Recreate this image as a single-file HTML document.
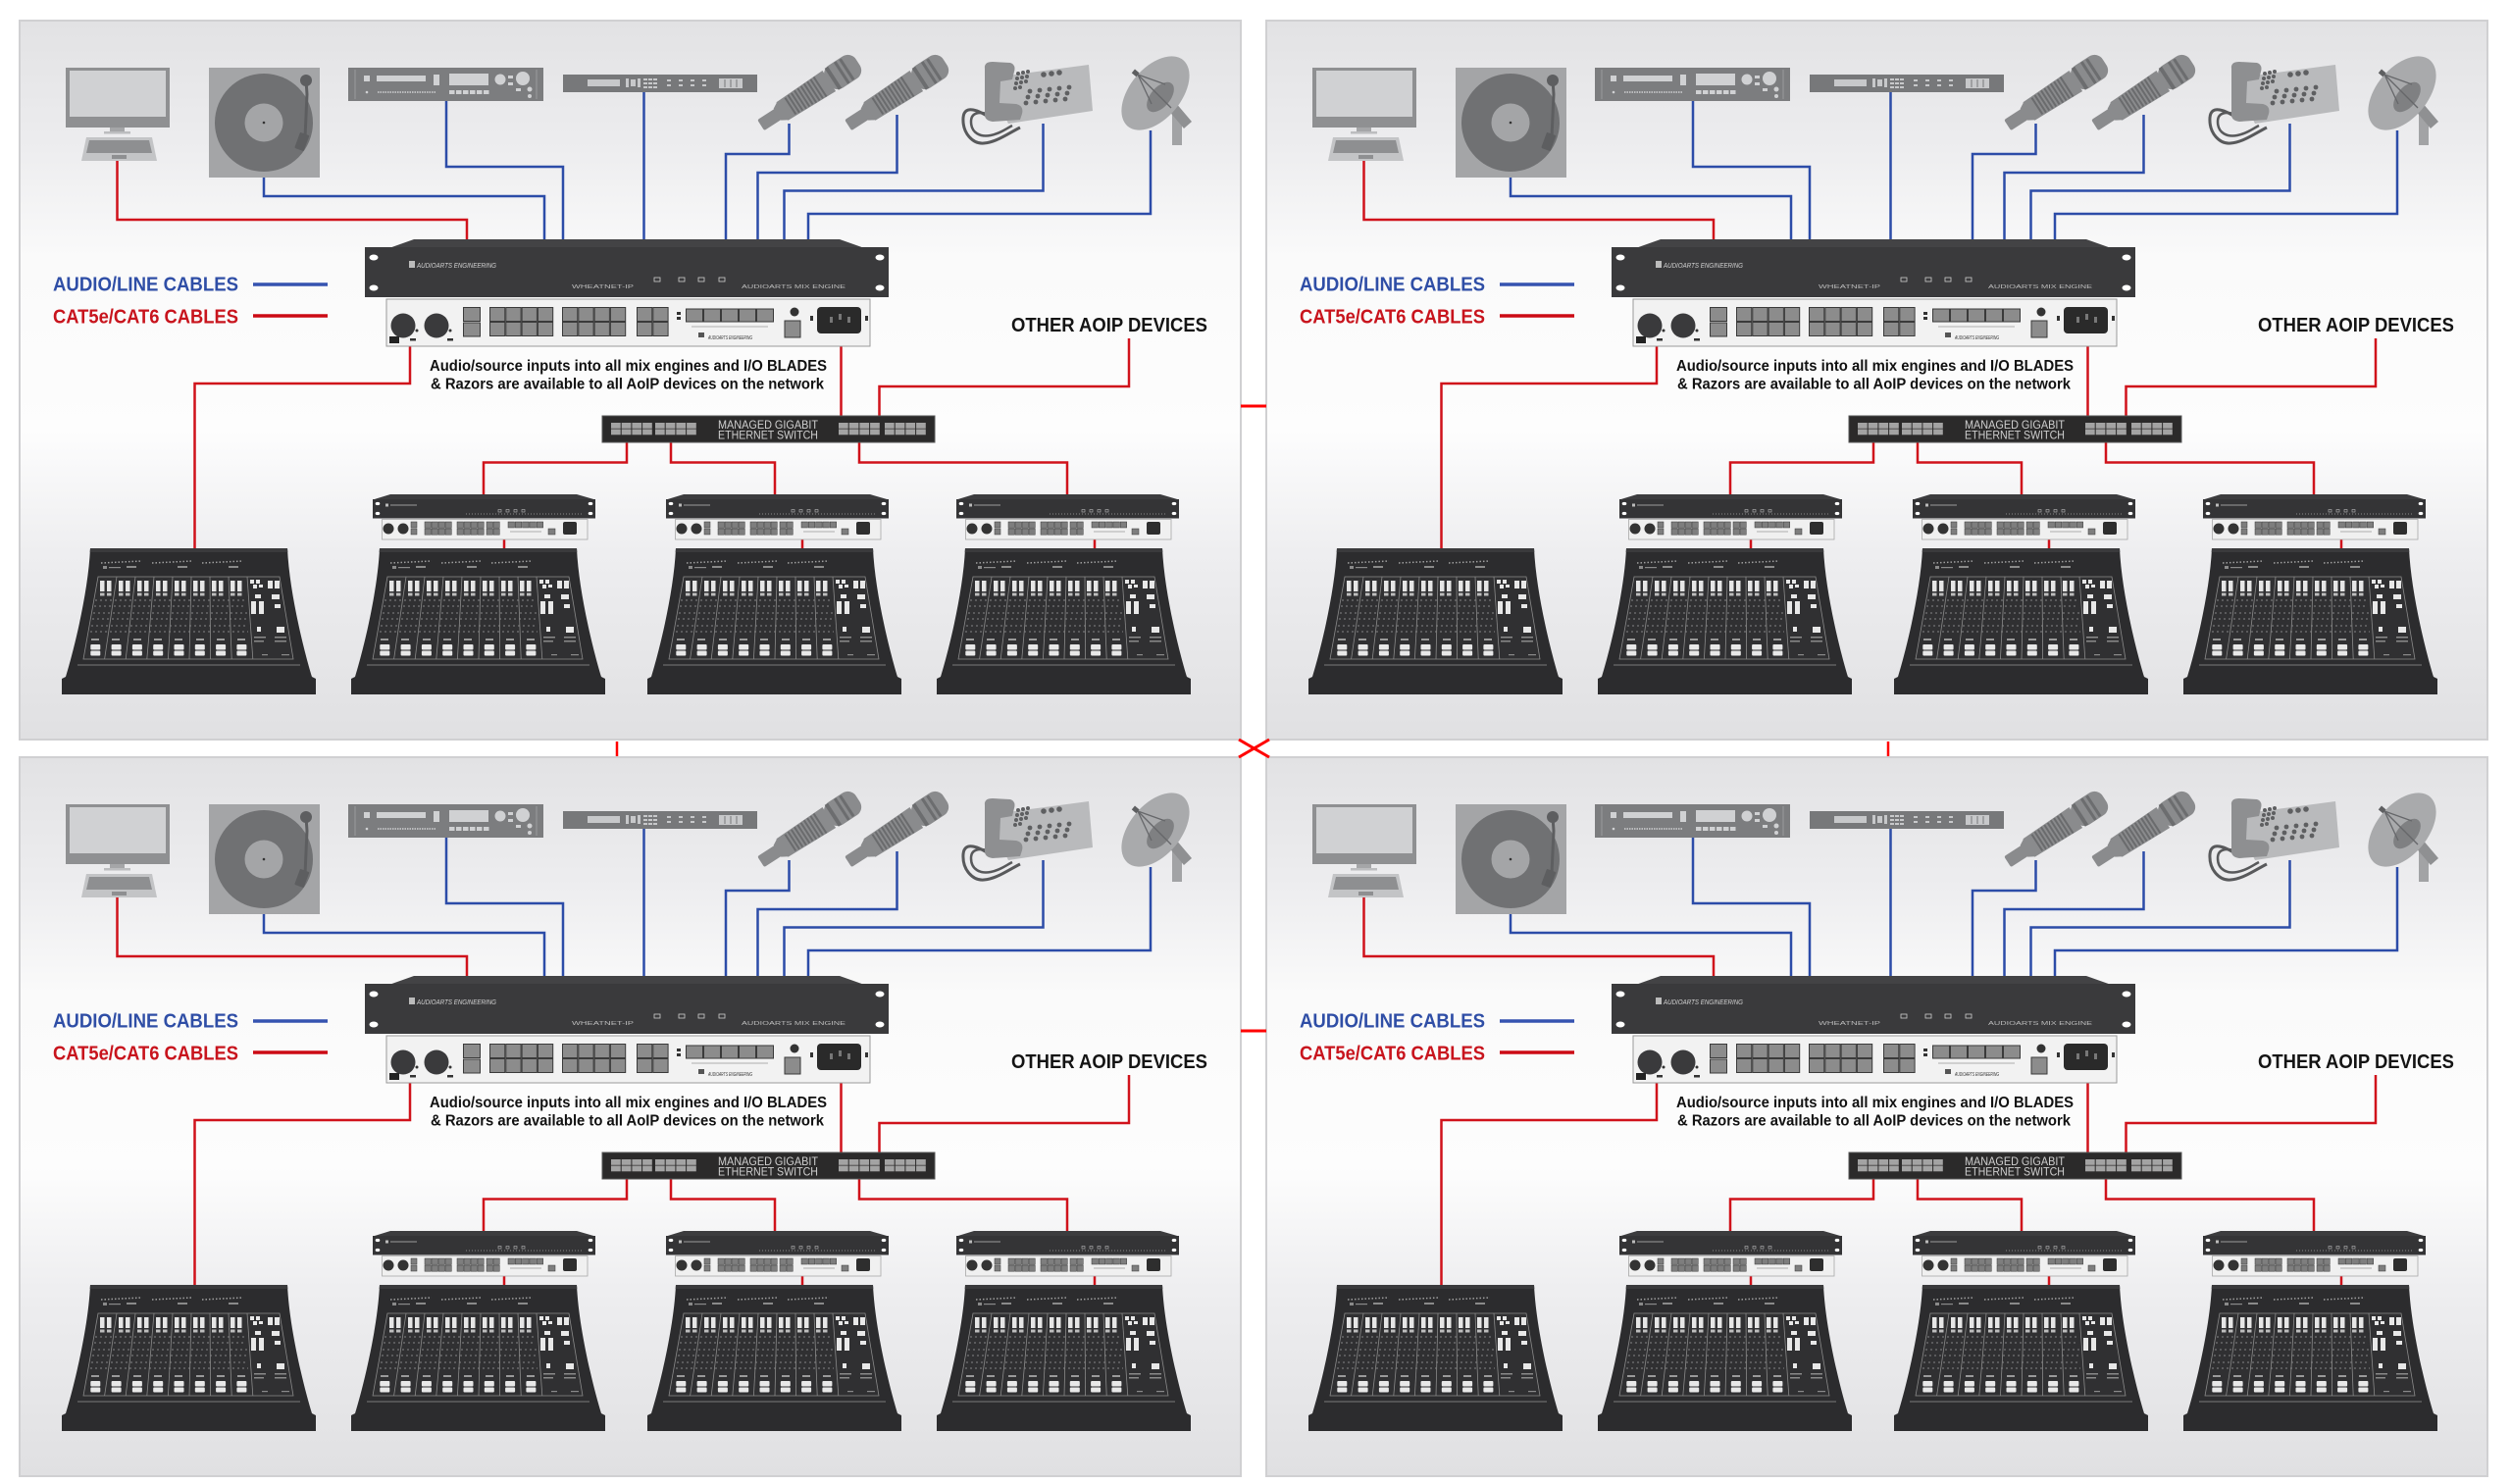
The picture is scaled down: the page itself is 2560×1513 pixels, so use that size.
<!DOCTYPE html>
<html><head><meta charset="utf-8"><style>
html,body{margin:0;padding:0;background:#fff;}
svg{display:block;}
text{font-family:"Liberation Sans",Arial,sans-serif;}
</style></head><body>
<svg width="2560" height="1513" viewBox="0 0 2560 1513" xmlns="http://www.w3.org/2000/svg">
<defs>
<linearGradient id="bg" x1="0" y1="0" x2="0" y2="1">
<stop offset="0" stop-color="#e2e2e4"/>
<stop offset="0.18" stop-color="#ededef"/>
<stop offset="0.33" stop-color="#fafafa"/>
<stop offset="0.57" stop-color="#fdfdfd"/>
<stop offset="0.74" stop-color="#eeeef0"/>
<stop offset="1" stop-color="#e0e0e2"/>
</linearGradient>

<g id="mic">
<rect x="-60" y="-6.5" width="22" height="13" rx="2" fill="#8a8b8d"/>
<polygon points="-40,-7 -33,-11 -33,11 -40,7" fill="#8a8b8d"/>
<polygon points="-34,-11 23,-12.5 23,12.5 -34,11" fill="#8a8b8d"/>
<g stroke="#6a6b6d" stroke-width="2">
<line x1="-24" y1="-10" x2="-24" y2="10"/><line x1="-20" y1="-10.5" x2="-20" y2="10.5"/><line x1="-16" y1="-10.5" x2="-16" y2="10.5"/><line x1="-12" y1="-11" x2="-12" y2="11"/><line x1="-8" y1="-11" x2="-8" y2="11"/><line x1="-4" y1="-11" x2="-4" y2="11"/><line x1="0" y1="-11.5" x2="0" y2="11.5"/><line x1="4" y1="-11.5" x2="4" y2="11.5"/><line x1="8" y1="-11.5" x2="8" y2="11.5"/><line x1="12" y1="-12" x2="12" y2="12"/>
</g>
<rect x="21" y="-13.5" width="37" height="27" rx="10" fill="#8a8b8d"/>
<rect x="26" y="-13" width="4" height="26" fill="#6c6d6f"/>
<rect x="37" y="-13" width="3" height="26" fill="#6c6d6f"/>
<rect x="43" y="-12.5" width="3" height="25" fill="#6c6d6f"/>
</g>

<g id="bl">
<polygon points="18,0 208,0 227,5.5 0,5.5" fill="#3c3c3e"/>
<rect x="0" y="5" width="227" height="19.5" fill="#343436"/>
<g fill="#fff"><ellipse cx="5" cy="9.5" rx="2.3" ry="1.6"/><ellipse cx="5" cy="19.5" rx="2.3" ry="1.6"/><ellipse cx="222" cy="9.5" rx="2.3" ry="1.6"/><ellipse cx="222" cy="19.5" rx="2.3" ry="1.6"/></g>
<rect x="13" y="9.5" width="3" height="3" fill="#bbb"/>
<line x1="18" y1="11" x2="45" y2="11" stroke="#9a9a9a" stroke-width="1"/>
<line x1="95" y1="20" x2="215" y2="20" stroke="#8a8a8a" stroke-width="1" stroke-dasharray="1 2"/>
<g fill="none" stroke="#bbb" stroke-width="0.6"><rect x="128" y="15.5" width="3" height="2.5"/><rect x="136" y="15.5" width="3" height="2.5"/><rect x="144" y="15.5" width="3" height="2.5"/><rect x="152" y="15.5" width="3" height="2.5"/></g>
<rect x="9.5" y="25.5" width="209.5" height="20.5" fill="#f0f0f0" stroke="#a8a8a8" stroke-width="0.8"/>
<circle cx="16" cy="35" r="5.5" fill="#333"/><circle cx="31" cy="35" r="5.5" fill="#333"/>
<g fill="#7e7e7e" stroke="#3a3a3a" stroke-width="0.5">
<rect x="39" y="28" width="6" height="6"/><rect x="39" y="35" width="6" height="6"/>
<rect x="53" y="28" width="6.3" height="6.2"/><rect x="60" y="28" width="6.3" height="6.2"/><rect x="67" y="28" width="6.3" height="6.2"/><rect x="74" y="28" width="6.3" height="6.2"/>
<rect x="53" y="35" width="6.3" height="6.2"/><rect x="60" y="35" width="6.3" height="6.2"/><rect x="67" y="35" width="6.3" height="6.2"/><rect x="74" y="35" width="6.3" height="6.2"/>
<rect x="86" y="28" width="6.3" height="6.2"/><rect x="93" y="28" width="6.3" height="6.2"/><rect x="100" y="28" width="6.3" height="6.2"/><rect x="107" y="28" width="6.3" height="6.2"/>
<rect x="86" y="35" width="6.3" height="6.2"/><rect x="93" y="35" width="6.3" height="6.2"/><rect x="100" y="35" width="6.3" height="6.2"/><rect x="107" y="35" width="6.3" height="6.2"/>
<rect x="116" y="28" width="6.3" height="6.2"/><rect x="123" y="28" width="6.3" height="6.2"/><rect x="116" y="35" width="6.3" height="6.2"/><rect x="123" y="35" width="6.3" height="6.2"/>
<rect x="138" y="28" width="6.5" height="6"/><rect x="145.3" y="28" width="6.5" height="6"/><rect x="152.6" y="28" width="6.5" height="6"/><rect x="159.9" y="28" width="6.5" height="6"/><rect x="167.2" y="28" width="6.5" height="6"/>
<rect x="179" y="35" width="7" height="6"/>
</g>
<line x1="140" y1="38" x2="172" y2="38" stroke="#999" stroke-width="0.8"/>
<rect x="194" y="28" width="14" height="13" rx="2" fill="#2e2e2e"/>
</g>

<g id="con">
<path d="M29,0 L230,0 C232,45 247,105 255,131 L259,133 L259,149 L0,149 L0,133 L4,131 C12,105 27,45 29,0 Z" fill="#2c2c2e"/>
<path d="M29,0 L230,0 L230.3,4 L28.7,4 Z" fill="#3a3a3c"/>
<polygon points="37,29 222,29 236,113 22,113" fill="#303032" stroke="#8a8a8a" stroke-width="0.8"/>
<g stroke="#8a8a8a" stroke-width="0.8">
<line x1="56" y1="29" x2="43.6" y2="113"/><line x1="75" y1="29" x2="65.2" y2="113"/><line x1="94" y1="29" x2="86.8" y2="113"/><line x1="113" y1="29" x2="108.4" y2="113"/><line x1="132" y1="29" x2="130" y2="113"/><line x1="151" y1="29" x2="151.6" y2="113"/><line x1="170" y1="29" x2="173.2" y2="113"/><line x1="189" y1="29" x2="194.8" y2="113"/>
</g>
<line x1="16" y1="119" x2="243" y2="119" stroke="#7a7a7a" stroke-width="1"/>
<g stroke="#a0a0a0" stroke-width="1.5" stroke-dasharray="1.5 2"><line x1="40" y1="15" x2="82" y2="13"/><line x1="92" y1="15" x2="133" y2="13"/><line x1="143" y1="15" x2="185" y2="13"/></g>
<g fill="#8a8a8a"><rect x="66" y="18" width="10" height="2"/><rect x="118" y="18" width="10" height="2"/><rect x="170" y="18" width="10" height="2"/><rect x="42" y="18" width="4" height="3"/><rect x="48" y="19" width="12" height="1.2"/></g>
<g stroke="#858585" stroke-width="0.9" stroke-dasharray="2 3"><line x1="34" y1="53" x2="188" y2="53"/><line x1="33" y1="59" x2="188" y2="59"/><line x1="32" y1="66" x2="189" y2="66"/><line x1="31" y1="72" x2="189" y2="72"/><line x1="30" y1="79" x2="190" y2="79"/><line x1="29" y1="85" x2="190" y2="85"/></g>
<g fill="#e6e6e6">
<rect x="39" y="33" width="4.5" height="11"/><rect x="46" y="33" width="4.5" height="11"/>
<rect x="58" y="33" width="4.5" height="11"/><rect x="65" y="33" width="4.5" height="11"/>
<rect x="77" y="33" width="4.5" height="11"/><rect x="84" y="33" width="4.5" height="11"/>
<rect x="96" y="33" width="4.5" height="11"/><rect x="103" y="33" width="4.5" height="11"/>
<rect x="115" y="33" width="4.5" height="11"/><rect x="122" y="33" width="4.5" height="11"/>
<rect x="134" y="33" width="4.5" height="11"/><rect x="141" y="33" width="4.5" height="11"/>
<rect x="153" y="33" width="4.5" height="11"/><rect x="160" y="33" width="4.5" height="11"/>
<rect x="172" y="33" width="4.5" height="11"/><rect x="179" y="33" width="4.5" height="11"/>
</g>
<g fill="#bdbdbd">
<rect x="39" y="45.5" width="4.5" height="3"/><rect x="46" y="45.5" width="4.5" height="3"/><rect x="58" y="45.5" width="4.5" height="3"/><rect x="65" y="45.5" width="4.5" height="3"/><rect x="77" y="45.5" width="4.5" height="3"/><rect x="84" y="45.5" width="4.5" height="3"/><rect x="96" y="45.5" width="4.5" height="3"/><rect x="103" y="45.5" width="4.5" height="3"/><rect x="115" y="45.5" width="4.5" height="3"/><rect x="122" y="45.5" width="4.5" height="3"/><rect x="134" y="45.5" width="4.5" height="3"/><rect x="141" y="45.5" width="4.5" height="3"/><rect x="153" y="45.5" width="4.5" height="3"/><rect x="160" y="45.5" width="4.5" height="3"/><rect x="172" y="45.5" width="4.5" height="3"/><rect x="179" y="45.5" width="4.5" height="3"/>
</g>
<g fill="#9a9a9a"><rect x="30" y="92" width="8" height="2"/><rect x="51" y="92" width="8" height="2"/><rect x="73" y="92" width="8" height="2"/><rect x="94" y="92" width="8" height="2"/><rect x="115" y="92" width="8" height="2"/><rect x="137" y="92" width="8" height="2"/><rect x="158" y="92" width="8" height="2"/><rect x="179" y="92" width="8" height="2"/></g>
<g fill="#e8e8e8">
<rect x="29.3" y="98" width="10" height="5.5" rx="1"/><rect x="29.3" y="104.5" width="10" height="5" rx="1"/>
<rect x="50.6" y="98" width="10" height="5.5" rx="1"/><rect x="50.6" y="104.5" width="10" height="5" rx="1"/>
<rect x="71.9" y="98" width="10" height="5.5" rx="1"/><rect x="71.9" y="104.5" width="10" height="5" rx="1"/>
<rect x="93.2" y="98" width="10" height="5.5" rx="1"/><rect x="93.2" y="104.5" width="10" height="5" rx="1"/>
<rect x="114.5" y="98" width="10" height="5.5" rx="1"/><rect x="114.5" y="104.5" width="10" height="5" rx="1"/>
<rect x="135.8" y="98" width="10" height="5.5" rx="1"/><rect x="135.8" y="104.5" width="10" height="5" rx="1"/>
<rect x="157.1" y="98" width="10" height="5.5" rx="1"/><rect x="157.1" y="104.5" width="10" height="5" rx="1"/>
<rect x="178.4" y="98" width="10" height="5.5" rx="1"/><rect x="178.4" y="104.5" width="10" height="5" rx="1"/>
<rect x="192" y="32" width="4" height="4"/><rect x="198" y="32" width="4" height="4"/><rect x="195" y="37" width="4" height="4"/><rect x="201" y="37" width="4" height="3"/>
<rect x="210" y="33" width="5" height="8"/><rect x="217" y="33" width="5" height="8"/>
<rect x="197" y="47" width="6" height="4"/><rect x="214" y="47" width="8" height="5"/>
<rect x="193" y="54" width="5" height="13"/><rect x="201" y="54" width="5" height="13"/>
<rect x="217" y="57" width="6" height="4"/>
<rect x="219" y="80" width="8" height="6"/>
<rect x="199" y="80" width="4" height="5"/>
</g>
<g fill="#8a8a8a"><rect x="196" y="90" width="12" height="1.5"/><rect x="217" y="90" width="12" height="1.5"/><rect x="196" y="94" width="10" height="1.5"/><rect x="217" y="94" width="12" height="1.5"/><rect x="204" y="108" width="6" height="1.2"/><rect x="224" y="108" width="8" height="1.2"/></g>
</g>

<g id="P">
<rect x="20" y="21" width="1245" height="733" fill="url(#bg)" stroke="#d0d0d2" stroke-width="2"/>
<!-- monitor -->
<rect x="67" y="69" width="106" height="61" fill="#8f9092"/>
<rect x="71" y="72" width="98" height="47" fill="#d0d1d3"/>
<rect x="112" y="130" width="15" height="5" fill="#a5a6a8"/>
<rect x="106" y="134" width="27" height="2.5" fill="#bcbdbf"/>
<polygon points="88,140 155,140 160,164 83,164" fill="#c3c4c6"/>
<polygon points="91,143 152,143 155,156 88,156" fill="#8e8f91"/>
<rect x="114" y="158" width="15" height="4" fill="#8e8f91"/>
<!-- turntable -->
<rect x="213" y="69" width="113" height="112" fill="#a4a5a7"/>
<circle cx="269" cy="125" r="50" fill="#707173"/>
<circle cx="269" cy="125" r="19.5" fill="#a4a5a7"/>
<circle cx="269" cy="125" r="1.3" fill="#333"/>
<circle cx="312" cy="82" r="6" fill="#5d5e60"/>
<path d="M312,82 L313,96 L311,140" stroke="#5d5e60" stroke-width="3" fill="none"/>
<rect x="303" y="136" width="10" height="17" rx="1" fill="#5d5e60" transform="rotate(20 308 144)"/>
<!-- CD rack -->
<rect x="355" y="69" width="199" height="34" fill="#7c7d7f"/>
<line x1="362" y1="71" x2="362" y2="101" stroke="#9a9b9d"/>
<line x1="547" y1="71" x2="547" y2="101" stroke="#9a9b9d"/>
<g fill="#d0d1d3">
<rect x="371" y="77" width="6" height="6"/><rect x="384" y="77" width="50" height="6"/><rect x="442" y="76" width="6" height="11"/><rect x="458" y="75" width="40" height="12"/>
<circle cx="510" cy="81" r="5.5"/><rect x="518" y="77" width="5" height="3"/><rect x="518" y="84" width="5" height="3"/><circle cx="533" cy="80" r="7"/>
<circle cx="374" cy="94" r="1.3"/>
<rect x="458" y="92" width="5.5" height="4"/><rect x="465" y="92" width="5.5" height="4"/><rect x="472" y="92" width="5.5" height="4"/><rect x="479" y="92" width="5.5" height="4"/><rect x="486" y="92" width="5.5" height="4"/><rect x="493" y="92" width="5.5" height="4"/>
<rect x="526" y="90" width="5" height="3"/><circle cx="540" cy="91" r="2.5"/><circle cx="540" cy="98" r="2"/>
</g>
<line x1="385" y1="94" x2="444" y2="94" stroke="#cfd0d2" stroke-width="1.5" stroke-dasharray="1.5 1"/>
<!-- slim rack -->
<rect x="574" y="76" width="198" height="18" fill="#77787a"/>
<g fill="#c7c8ca">
<rect x="599" y="81" width="33" height="7"/><rect x="638" y="80" width="3" height="9"/><rect x="643" y="81" width="5" height="7"/><rect x="650" y="80" width="3" height="9"/>
<rect x="656" y="80" width="4" height="2"/><rect x="661" y="80" width="4" height="2"/><rect x="666" y="80" width="4" height="2"/>
<rect x="656" y="84" width="4" height="2"/><rect x="661" y="84" width="4" height="2"/><rect x="666" y="84" width="4" height="2"/>
<rect x="656" y="88" width="4" height="2"/><rect x="661" y="88" width="4" height="2"/><rect x="666" y="88" width="4" height="2"/>
<rect x="680" y="81" width="4" height="2"/><rect x="680" y="86" width="4" height="2"/><rect x="692" y="81" width="4" height="2"/><rect x="692" y="86" width="4" height="2"/><rect x="704" y="81" width="4" height="2"/><rect x="704" y="86" width="4" height="2"/><rect x="716" y="81" width="4" height="2"/><rect x="716" y="86" width="4" height="2"/>
<rect x="733" y="80" width="24" height="10"/>
</g>
<g stroke="#77787a" stroke-width="1"><line x1="739" y1="81" x2="739" y2="89"/><line x1="745" y1="81" x2="745" y2="89"/><line x1="751" y1="81" x2="751" y2="89"/></g>
<!-- mics -->
<use href="#mic" transform="translate(826,95) rotate(-33)"/>
<use href="#mic" transform="translate(915,95) rotate(-33)"/>
<!-- phone -->
<polygon points="1005,80 1110,66 1114,113 1028,126" fill="#b9babc"/>
<path d="M1012,122 C998,112 983,106 982,120 C981,136 992,147 1003,146 C1016,145 1028,136 1040,130" stroke="#58595b" stroke-width="3" fill="none"/>
<path d="M1013,119 C1002,113 990,113 990,124 C990,136 1000,140 1010,138 C1020,136 1026,131 1032,128" stroke="#58595b" stroke-width="2.5" fill="none"/>
<path d="M1004,70 Q1003,63 1012,63 L1030,64 Q1036,66 1034,73 L1032,81 L1020,83 L1019,105 L1036,106 Q1044,108 1042,116 L1040,122 L1012,124 Q1003,123 1004,115 Z" fill="#8e8f91"/>
<g fill="#5e5f61">
<circle cx="1038" cy="75" r="2"/><circle cx="1043" cy="74" r="2"/><circle cx="1048" cy="73" r="2"/>
<circle cx="1037" cy="80" r="2"/><circle cx="1042" cy="79" r="2"/><circle cx="1047" cy="78" r="2"/>
<circle cx="1036" cy="85" r="2"/><circle cx="1041" cy="84" r="2"/><circle cx="1046" cy="83" r="2"/>
<circle cx="1035" cy="90" r="2"/><circle cx="1040" cy="89" r="2"/>
<circle cx="1064" cy="76" r="2.8"/><circle cx="1072" cy="75" r="2.8"/><circle cx="1080" cy="74" r="2.8"/>
<circle cx="1050" cy="93" r="2.4"/><circle cx="1060" cy="92" r="2.4"/><circle cx="1070" cy="91" r="2.4"/><circle cx="1080" cy="90" r="2.4"/><circle cx="1090" cy="89" r="2.4"/>
<circle cx="1048" cy="99" r="2.4"/><circle cx="1058" cy="98" r="2.4"/><circle cx="1068" cy="97" r="2.4"/><circle cx="1078" cy="96" r="2.4"/><circle cx="1088" cy="95" r="2.4"/>
<circle cx="1046" cy="105" r="2.4"/><circle cx="1056" cy="104" r="2.4"/><circle cx="1066" cy="103" r="2.4"/><circle cx="1076" cy="102" r="2.4"/><circle cx="1086" cy="101" r="2.4"/>
</g>
<!-- dish -->
<rect x="1195" y="112" width="10" height="36" fill="#a2a3a5"/>
<polygon points="1190,111 1198,104 1215,124 1207,131" fill="#8f9092"/>
<ellipse cx="1178" cy="95" rx="26" ry="44" transform="rotate(40 1178 95)" fill="#a9aaac"/>
<ellipse cx="1183" cy="99" rx="10" ry="18" transform="rotate(40 1183 99)" fill="#7f8082"/>
<g stroke="#66676a" stroke-width="1.3"><line x1="1160" y1="76" x2="1174" y2="106"/><line x1="1160" y1="76" x2="1188" y2="86"/><line x1="1160" y1="76" x2="1194" y2="110"/></g>
<rect x="1155" y="72" width="6" height="5" fill="#5e5f61" transform="rotate(40 1158 74)"/>
<!-- blue lines -->
<g fill="none" stroke="#2c4ca8" stroke-width="2.5">
<polyline points="269,181 269,200 555,200 555,244"/>
<polyline points="455,103 455,170 574,170 574,244"/>
<polyline points="656.5,94 656.5,244"/>
<polyline points="804.5,126 804.5,157 740,157 740,244"/>
<polyline points="914.5,117 914.5,176 772.5,176 772.5,244"/>
<polyline points="1063.5,126 1063.5,194.5 799.5,194.5 799.5,244"/>
<polyline points="1173,133 1173,218 824,218 824,244"/>
</g>
<!-- red lines -->
<g fill="none" stroke="#d0121b" stroke-width="2.5">
<polyline points="119.5,164 119.5,224 476,224 476,244"/>
<polyline points="418,353 418,391 198.5,391 198.5,559"/>
<polyline points="857.5,353 857.5,424"/>
<polyline points="1151,345 1151,394 896.5,394 896.5,424"/>
<polyline points="639,451 639,471.5 493,471.5 493,504"/>
<polyline points="684,451 684,471.5 790,471.5 790,504"/>
<polyline points="876,451 876,471.5 1088,471.5 1088,504"/>
<line x1="514" y1="550" x2="514" y2="560"/>
<line x1="818" y1="550" x2="818" y2="560"/>
<line x1="1116" y1="550" x2="1116" y2="560"/>
</g>
<line x1="258" y1="290" x2="334" y2="290" stroke="#3553b0" stroke-width="3.5"/>
<line x1="258" y1="322" x2="334" y2="322" stroke="#cc0a14" stroke-width="3.5"/>
<!-- main rack front -->
<polygon points="422,244 856,244 880,252.5 398,252.5" fill="#434345"/>
<rect x="372" y="252" width="534" height="51" fill="#3a3a3c"/>
<g fill="#fff"><ellipse cx="381" cy="262.5" rx="4.5" ry="3"/><ellipse cx="381" cy="293.5" rx="4.5" ry="3"/><ellipse cx="897" cy="262.5" rx="4.5" ry="3"/><ellipse cx="897" cy="293.5" rx="4.5" ry="3"/></g>
<rect x="417" y="266" width="6" height="7" fill="#bbb"/>
<g fill="none" stroke="#cfcfcf" stroke-width="0.8"><rect x="667" y="283" width="6" height="4"/><rect x="692" y="283" width="6" height="4"/><rect x="712" y="283" width="6" height="4"/><rect x="733" y="283" width="6" height="4"/></g>
<!-- main rack rear -->
<rect x="394" y="305" width="493" height="48" fill="#f2f2f2" stroke="#9a9a9a" stroke-width="1"/>
<circle cx="411" cy="332" r="12.5" fill="#3a3a3c"/><circle cx="445" cy="332" r="12.5" fill="#3a3a3c"/>
<rect x="397" y="343" width="10" height="7" fill="#222"/>
<rect x="418" y="345" width="6" height="2.5" fill="#333"/><rect x="456" y="345" width="6" height="2.5" fill="#333"/>
<circle cx="425" cy="337" r="1.5" fill="#333"/><circle cx="459" cy="337" r="1.5" fill="#333"/>
<g fill="#8c8c8c" stroke="#3a3a3a" stroke-width="1">
<rect x="472.5" y="313.5" width="17" height="14"/><rect x="472.5" y="329" width="17" height="14"/>
<rect x="499.5" y="313.5" width="15.3" height="14"/><rect x="515.8" y="313.5" width="15.3" height="14"/><rect x="532.1" y="313.5" width="15.3" height="14"/><rect x="548.4" y="313.5" width="15.3" height="14"/>
<rect x="499.5" y="328.5" width="15.3" height="14"/><rect x="515.8" y="328.5" width="15.3" height="14"/><rect x="532.1" y="328.5" width="15.3" height="14"/><rect x="548.4" y="328.5" width="15.3" height="14"/>
<rect x="573.5" y="313.5" width="15.3" height="14"/><rect x="589.8" y="313.5" width="15.3" height="14"/><rect x="606.1" y="313.5" width="15.3" height="14"/><rect x="622.4" y="313.5" width="15.3" height="14"/>
<rect x="573.5" y="328.5" width="15.3" height="14"/><rect x="589.8" y="328.5" width="15.3" height="14"/><rect x="606.1" y="328.5" width="15.3" height="14"/><rect x="622.4" y="328.5" width="15.3" height="14"/>
<rect x="649.5" y="313.5" width="15.3" height="14"/><rect x="665.8" y="313.5" width="15.3" height="14"/>
<rect x="649.5" y="328.5" width="15.3" height="14"/><rect x="665.8" y="328.5" width="15.3" height="14"/>
<rect x="699.5" y="315" width="17" height="13"/><rect x="717.5" y="315" width="17" height="13"/><rect x="735.5" y="315" width="17" height="13"/><rect x="753.5" y="315" width="17" height="13"/><rect x="771.5" y="315" width="17" height="13"/>
<rect x="800" y="327" width="16" height="17"/>
</g>
<rect x="690" y="318" width="4" height="3" fill="#333"/><rect x="690" y="323" width="4" height="3" fill="#333"/>
<line x1="705" y1="333" x2="783" y2="333" stroke="#999" stroke-width="0.8"/>
<rect x="712" y="339" width="6" height="5" fill="#555"/>
<circle cx="810" cy="318" r="4.5" fill="#333"/>
<rect x="826" y="322" width="3" height="5" fill="#333"/><rect x="882" y="322" width="3" height="5" fill="#333"/>
<rect x="833" y="313" width="45" height="27" rx="4" fill="#2a2a2a"/>
<g fill="#777"><rect x="846" y="323" width="3" height="6"/><rect x="855" y="320" width="3" height="6"/><rect x="864" y="323" width="3" height="6"/></g>
<!-- switch -->
<rect x="614" y="424" width="339" height="27" fill="#2b2a2a" stroke="#555" stroke-width="1"/>
<g fill="#a3a3a3">
<rect x="623" y="431" width="9.7" height="5.8"/><rect x="633.7" y="431" width="9.7" height="5.8"/><rect x="644.4" y="431" width="9.7" height="5.8"/><rect x="655.1" y="431" width="9.7" height="5.8"/>
<rect x="623" y="437.5" width="9.7" height="5.8"/><rect x="633.7" y="437.5" width="9.7" height="5.8"/><rect x="644.4" y="437.5" width="9.7" height="5.8"/><rect x="655.1" y="437.5" width="9.7" height="5.8"/>
<rect x="668" y="431" width="9.7" height="5.8"/><rect x="678.7" y="431" width="9.7" height="5.8"/><rect x="689.4" y="431" width="9.7" height="5.8"/><rect x="700.1" y="431" width="9.7" height="5.8"/>
<rect x="668" y="437.5" width="9.7" height="5.8"/><rect x="678.7" y="437.5" width="9.7" height="5.8"/><rect x="689.4" y="437.5" width="9.7" height="5.8"/><rect x="700.1" y="437.5" width="9.7" height="5.8"/>
<rect x="855" y="431" width="9.7" height="5.8"/><rect x="865.7" y="431" width="9.7" height="5.8"/><rect x="876.4" y="431" width="9.7" height="5.8"/><rect x="887.1" y="431" width="9.7" height="5.8"/>
<rect x="855" y="437.5" width="9.7" height="5.8"/><rect x="865.7" y="437.5" width="9.7" height="5.8"/><rect x="876.4" y="437.5" width="9.7" height="5.8"/><rect x="887.1" y="437.5" width="9.7" height="5.8"/>
<rect x="902" y="431" width="9.7" height="5.8"/><rect x="912.7" y="431" width="9.7" height="5.8"/><rect x="923.4" y="431" width="9.7" height="5.8"/><rect x="934.1" y="431" width="9.7" height="5.8"/>
<rect x="902" y="437.5" width="9.7" height="5.8"/><rect x="912.7" y="437.5" width="9.7" height="5.8"/><rect x="923.4" y="437.5" width="9.7" height="5.8"/><rect x="934.1" y="437.5" width="9.7" height="5.8"/>
</g>
<!-- blades -->
<use href="#bl" x="380" y="504"/>
<use href="#bl" x="679" y="504"/>
<use href="#bl" x="975" y="504"/>
<!-- consoles -->
<use href="#con" x="63" y="559"/>
<use href="#con" x="358" y="559"/>
<use href="#con" x="660" y="559"/>
<use href="#con" x="955" y="559"/>
</g>
</defs>

<use href="#P"/>
<use href="#P" x="1271"/>
<use href="#P" y="751"/>
<use href="#P" x="1271" y="751"/>

<g>
<text x="54" y="296.5" font-size="20" font-weight="bold" fill="#2f4ea6" textLength="189" lengthAdjust="spacingAndGlyphs">AUDIO/LINE CABLES</text>
<text x="54" y="329.5" font-size="20" font-weight="bold" fill="#c8141d" textLength="189" lengthAdjust="spacingAndGlyphs">CAT5e/CAT6 CABLES</text>
<text x="1031" y="338" font-size="20.5" font-weight="bold" fill="#141414" textLength="200" lengthAdjust="spacingAndGlyphs">OTHER AOIP DEVICES</text>
<text x="438" y="378" font-size="16" font-weight="bold" fill="#111" textLength="405" lengthAdjust="spacingAndGlyphs">Audio/source inputs into all mix engines and I/O BLADES</text>
<text x="439" y="396.5" font-size="16" font-weight="bold" fill="#111" textLength="401" lengthAdjust="spacingAndGlyphs">&amp; Razors are available to all AoIP devices on the network</text>
<text x="732" y="437" font-size="11.5" fill="#cfcfcf" textLength="102" lengthAdjust="spacingAndGlyphs">MANAGED GIGABIT</text>
<text x="732" y="447.5" font-size="11.5" fill="#cfcfcf" textLength="102" lengthAdjust="spacingAndGlyphs">ETHERNET SWITCH</text>
<text x="425" y="273" font-size="7" font-style="italic" fill="#d0d0d0" textLength="81" lengthAdjust="spacingAndGlyphs">AUDIOARTS ENGINEERING</text>
<text x="583" y="294" font-size="5" fill="#bbb" textLength="63" lengthAdjust="spacingAndGlyphs">WHEATNET-IP</text>
<text x="756" y="294" font-size="5" fill="#bbb" textLength="106" lengthAdjust="spacingAndGlyphs">AUDIOARTS MIX ENGINE</text>
<text x="722" y="346" font-size="5" font-style="italic" fill="#333" textLength="45" lengthAdjust="spacingAndGlyphs">AUDIOARTS ENGINEERING</text>
</g>
<g transform="translate(1271,0)">
<text x="54" y="296.5" font-size="20" font-weight="bold" fill="#2f4ea6" textLength="189" lengthAdjust="spacingAndGlyphs">AUDIO/LINE CABLES</text>
<text x="54" y="329.5" font-size="20" font-weight="bold" fill="#c8141d" textLength="189" lengthAdjust="spacingAndGlyphs">CAT5e/CAT6 CABLES</text>
<text x="1031" y="338" font-size="20.5" font-weight="bold" fill="#141414" textLength="200" lengthAdjust="spacingAndGlyphs">OTHER AOIP DEVICES</text>
<text x="438" y="378" font-size="16" font-weight="bold" fill="#111" textLength="405" lengthAdjust="spacingAndGlyphs">Audio/source inputs into all mix engines and I/O BLADES</text>
<text x="439" y="396.5" font-size="16" font-weight="bold" fill="#111" textLength="401" lengthAdjust="spacingAndGlyphs">&amp; Razors are available to all AoIP devices on the network</text>
<text x="732" y="437" font-size="11.5" fill="#cfcfcf" textLength="102" lengthAdjust="spacingAndGlyphs">MANAGED GIGABIT</text>
<text x="732" y="447.5" font-size="11.5" fill="#cfcfcf" textLength="102" lengthAdjust="spacingAndGlyphs">ETHERNET SWITCH</text>
<text x="425" y="273" font-size="7" font-style="italic" fill="#d0d0d0" textLength="81" lengthAdjust="spacingAndGlyphs">AUDIOARTS ENGINEERING</text>
<text x="583" y="294" font-size="5" fill="#bbb" textLength="63" lengthAdjust="spacingAndGlyphs">WHEATNET-IP</text>
<text x="756" y="294" font-size="5" fill="#bbb" textLength="106" lengthAdjust="spacingAndGlyphs">AUDIOARTS MIX ENGINE</text>
<text x="722" y="346" font-size="5" font-style="italic" fill="#333" textLength="45" lengthAdjust="spacingAndGlyphs">AUDIOARTS ENGINEERING</text>
</g>
<g transform="translate(0,751)">
<text x="54" y="296.5" font-size="20" font-weight="bold" fill="#2f4ea6" textLength="189" lengthAdjust="spacingAndGlyphs">AUDIO/LINE CABLES</text>
<text x="54" y="329.5" font-size="20" font-weight="bold" fill="#c8141d" textLength="189" lengthAdjust="spacingAndGlyphs">CAT5e/CAT6 CABLES</text>
<text x="1031" y="338" font-size="20.5" font-weight="bold" fill="#141414" textLength="200" lengthAdjust="spacingAndGlyphs">OTHER AOIP DEVICES</text>
<text x="438" y="378" font-size="16" font-weight="bold" fill="#111" textLength="405" lengthAdjust="spacingAndGlyphs">Audio/source inputs into all mix engines and I/O BLADES</text>
<text x="439" y="396.5" font-size="16" font-weight="bold" fill="#111" textLength="401" lengthAdjust="spacingAndGlyphs">&amp; Razors are available to all AoIP devices on the network</text>
<text x="732" y="437" font-size="11.5" fill="#cfcfcf" textLength="102" lengthAdjust="spacingAndGlyphs">MANAGED GIGABIT</text>
<text x="732" y="447.5" font-size="11.5" fill="#cfcfcf" textLength="102" lengthAdjust="spacingAndGlyphs">ETHERNET SWITCH</text>
<text x="425" y="273" font-size="7" font-style="italic" fill="#d0d0d0" textLength="81" lengthAdjust="spacingAndGlyphs">AUDIOARTS ENGINEERING</text>
<text x="583" y="294" font-size="5" fill="#bbb" textLength="63" lengthAdjust="spacingAndGlyphs">WHEATNET-IP</text>
<text x="756" y="294" font-size="5" fill="#bbb" textLength="106" lengthAdjust="spacingAndGlyphs">AUDIOARTS MIX ENGINE</text>
<text x="722" y="346" font-size="5" font-style="italic" fill="#333" textLength="45" lengthAdjust="spacingAndGlyphs">AUDIOARTS ENGINEERING</text>
</g>
<g transform="translate(1271,751)">
<text x="54" y="296.5" font-size="20" font-weight="bold" fill="#2f4ea6" textLength="189" lengthAdjust="spacingAndGlyphs">AUDIO/LINE CABLES</text>
<text x="54" y="329.5" font-size="20" font-weight="bold" fill="#c8141d" textLength="189" lengthAdjust="spacingAndGlyphs">CAT5e/CAT6 CABLES</text>
<text x="1031" y="338" font-size="20.5" font-weight="bold" fill="#141414" textLength="200" lengthAdjust="spacingAndGlyphs">OTHER AOIP DEVICES</text>
<text x="438" y="378" font-size="16" font-weight="bold" fill="#111" textLength="405" lengthAdjust="spacingAndGlyphs">Audio/source inputs into all mix engines and I/O BLADES</text>
<text x="439" y="396.5" font-size="16" font-weight="bold" fill="#111" textLength="401" lengthAdjust="spacingAndGlyphs">&amp; Razors are available to all AoIP devices on the network</text>
<text x="732" y="437" font-size="11.5" fill="#cfcfcf" textLength="102" lengthAdjust="spacingAndGlyphs">MANAGED GIGABIT</text>
<text x="732" y="447.5" font-size="11.5" fill="#cfcfcf" textLength="102" lengthAdjust="spacingAndGlyphs">ETHERNET SWITCH</text>
<text x="425" y="273" font-size="7" font-style="italic" fill="#d0d0d0" textLength="81" lengthAdjust="spacingAndGlyphs">AUDIOARTS ENGINEERING</text>
<text x="583" y="294" font-size="5" fill="#bbb" textLength="63" lengthAdjust="spacingAndGlyphs">WHEATNET-IP</text>
<text x="756" y="294" font-size="5" fill="#bbb" textLength="106" lengthAdjust="spacingAndGlyphs">AUDIOARTS MIX ENGINE</text>
<text x="722" y="346" font-size="5" font-style="italic" fill="#333" textLength="45" lengthAdjust="spacingAndGlyphs">AUDIOARTS ENGINEERING</text>
</g>

<g stroke="#f00" stroke-width="3" fill="none">
<line x1="1265" y1="414" x2="1291" y2="414"/>
<line x1="1265" y1="1051" x2="1291" y2="1051"/>
<line x1="629" y1="756" x2="629" y2="771" stroke-width="2.5"/>
<line x1="1925" y1="756" x2="1925" y2="771" stroke-width="2.5"/>
<line x1="1263" y1="754" x2="1294" y2="772"/>
<line x1="1263" y1="772" x2="1294" y2="754"/>
</g>
</svg>
</body></html>
